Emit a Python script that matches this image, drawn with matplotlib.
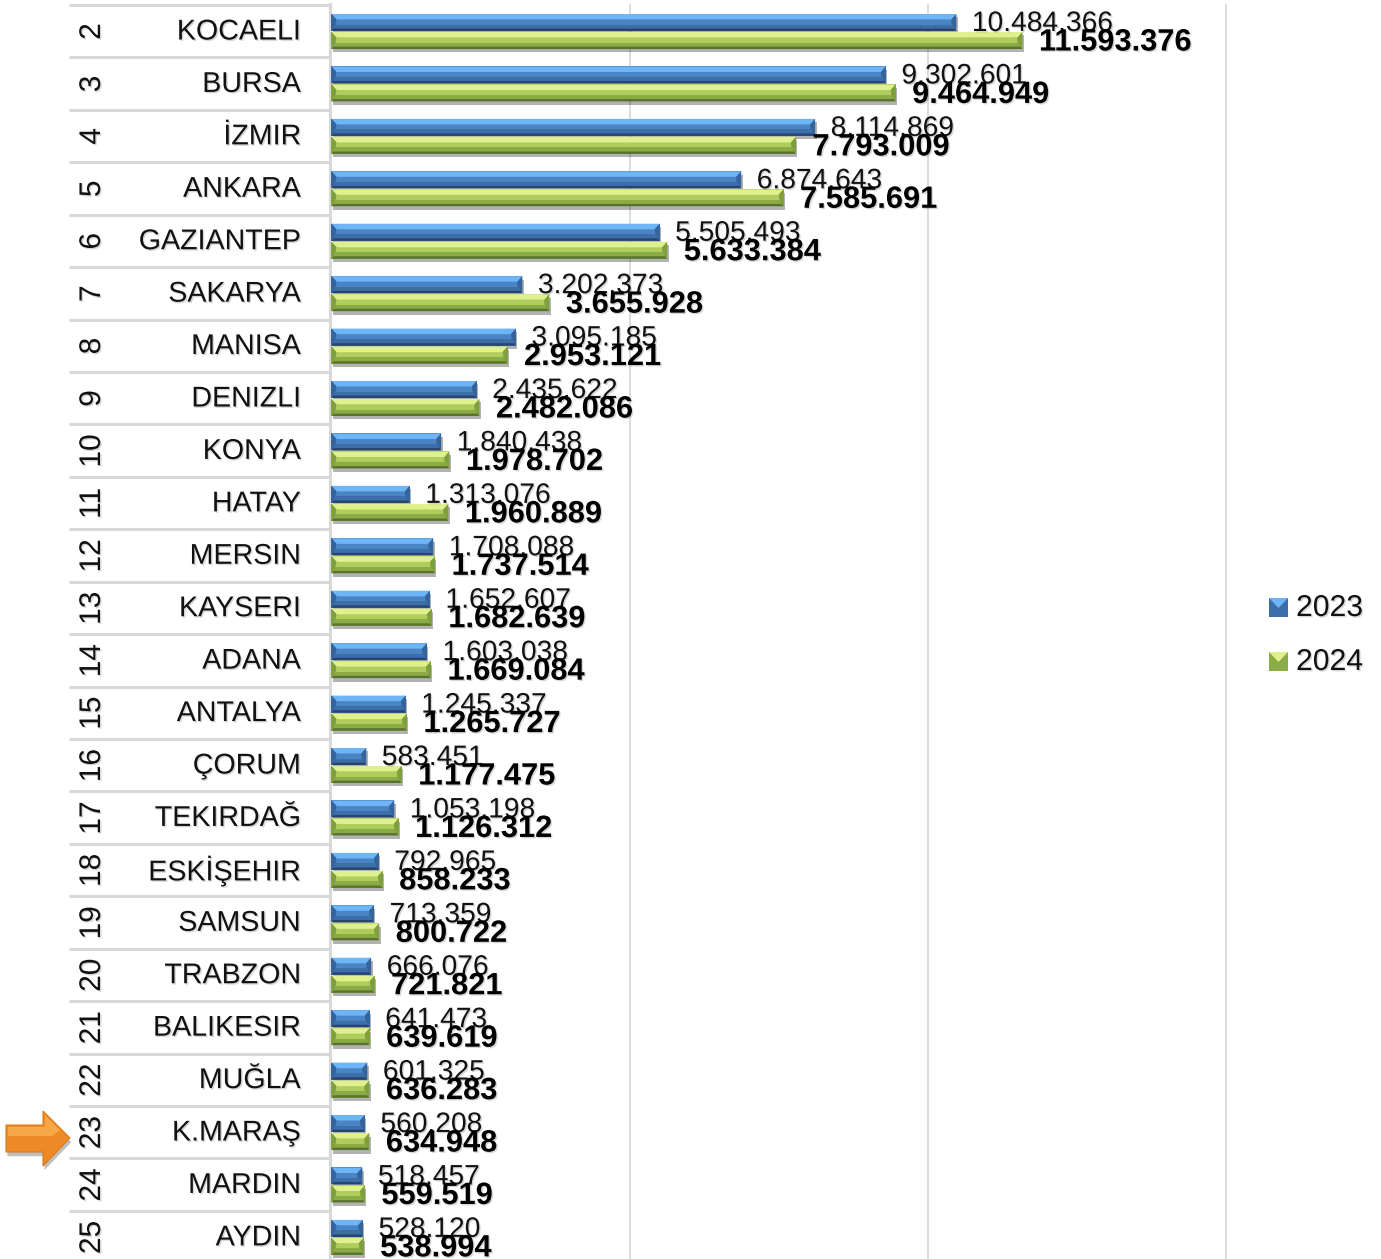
import matplotlib
matplotlib.use('Agg')
import matplotlib.pyplot as plt
import matplotlib.patheffects as pe
from matplotlib.patches import Polygon, Rectangle
from matplotlib.transforms import Affine2D

ranks = list(range(2, 26))
cities = ['KOCAELI', 'BURSA', 'İZMIR', 'ANKARA', 'GAZIANTEP', 'SAKARYA', 'MANISA',
          'DENIZLI', 'KONYA', 'HATAY', 'MERSIN', 'KAYSERI', 'ADANA', 'ANTALYA',
          'ÇORUM', 'TEKIRDAĞ', 'ESKİŞEHIR', 'SAMSUN', 'TRABZON', 'BALIKESIR',
          'MUĞLA', 'K.MARAŞ', 'MARDIN', 'AYDIN']
v2023 = [10484366, 9302601, 8114869, 6874643, 5505493, 3202373, 3095185,
         2435622, 1840438, 1313076, 1708088, 1652607, 1603038, 1245337,
         583451, 1053198, 792965, 713359, 666076, 641473,
         601325, 560208, 518457, 528120]
v2024 = [11593376, 9464949, 7793009, 7585691, 5633384, 3655928, 2953121,
         2482086, 1978702, 1960889, 1737514, 1682639, 1669084, 1265727,
         1177475, 1126312, 858233, 800722, 721821, 639619,
         636283, 634948, 559519, 538994]
years = ['2023', '2024']
grid_ticks = [0, 5000000, 10000000, 15000000]

W, H = 1381, 1259
X0 = 331.5
PX_PER_UNIT = 59.6e-6
ROW = 52.43
ROW0 = 31.5

plt.rcParams['font.family'] = ['Liberation Sans', 'DejaVu Sans']

fig = plt.figure(figsize=(W / 100, H / 100), dpi=100)
ax = fig.add_axes([0, 0, 1, 1])
ax.set_xlim(-X0 / PX_PER_UNIT, (W - X0) / PX_PER_UNIT)
ax.set_ylim((H - ROW0) / ROW, -ROW0 / ROW)
ax.axis('off')

# pixel coordinates, y going down like the picture
px = Affine2D().scale(1, -1).translate(0, H)

shadow = [pe.withSimplePatchShadow(offset=(1.0, -1.0), alpha=0.16, shadow_rgbFace='k')]
bar_shadow = [pe.SimplePatchShadow(offset=(1, -2.5), alpha=0.3, shadow_rgbFace='k'), pe.Normal()]

BLUE = dict(main='#3c6ea9', top='#6db5f7', mid='#4a84c2', bottom='#27446e', side='#35649c')
GREEN = dict(main='#8bab45', top='#dff18d', mid='#b0cc5c', bottom='#5a7230', side='#7f9e3e')


def bevel_bar(val, y0, y1, c):
    bw = min(5 / PX_PER_UNIT, val * 0.3)
    h = y1 - y0
    top = y0 + h * 0.33
    midb = y0 + h * 0.62
    bot = y1 - h * 0.14
    polys = [
        ([(0, y0), (val, y0), (val - bw, top), (bw, top)], c['top'], 3.2),
        ([(bw, top), (val - bw, top), (val - bw, midb), (bw, midb)], c['mid'], 3.1),
        ([(0, y1), (val, y1), (val - bw * 0.4, bot), (bw * 0.4, bot)], c['bottom'], 3.2),
        ([(0, y0), (bw, top), (bw * 0.4, bot), (0, y1)], c['side'], 3.3),
        ([(val, y0), (val - bw, top), (val - bw * 0.4, bot), (val, y1)], c['side'], 3.3),
    ]
    for pts, col, z in polys:
        ax.add_patch(Polygon(pts, closed=True, fc=col, ec='none', zorder=z))


# grid
for t in grid_ticks:
    ax.plot([t, t], [(5 - ROW0) / ROW, (H - ROW0) / ROW], color='#d9d9d9', lw=1.3, zorder=1)

# table on the left
for i in range(len(ranks) + 1):
    y = 5 + i * ROW
    ax.plot([69, 330], [y, y], color='#d8d8d8', lw=2.2, transform=px, zorder=2, solid_capstyle='butt')
ax.plot([330, 330], [4, H], color='#d8d8d8', lw=2.2, transform=px, zorder=2)

bar_h = 17 / ROW
for i, city in enumerate(cities):
    yc = ROW0 + i * ROW
    ax.text(92, yc, str(ranks[i]), rotation=90, ha='center', va='center', fontsize=21.5,
            transform=px, color='#111111', path_effects=shadow, zorder=5)
    ax.text(301, yc, city, ha='right', va='center', fontsize=20.6,
            transform=px, color='#111111', path_effects=shadow, zorder=5)

    for val, c, off in ((v2023[i], BLUE, -17.5), (v2024[i], GREEN, 0.5)):
        y0 = i + off / ROW
        b = ax.barh(y0 + bar_h / 2, val, height=bar_h, color=c['main'], zorder=3)
        b[0].set_path_effects(bar_shadow)
        bevel_bar(val, y0, y0 + bar_h, c)

    ax.text(v2023[i] + 15.5 / PX_PER_UNIT, i - 7.5 / ROW,
            f'{v2023[i]:,}'.replace(',', '.'), ha='left', va='center', fontsize=20.3,
            color='#111111', path_effects=shadow, zorder=6)
    ax.text(v2024[i] + 16.5 / PX_PER_UNIT, i + 11 / ROW,
            f'{v2024[i]:,}'.replace(',', '.'), ha='left', va='center', fontsize=22.2,
            fontweight='bold', color='#000000', path_effects=shadow, zorder=7)

# legend
for year, yy, c in zip(years, (598, 652), (BLUE, GREEN)):
    ax.add_patch(Rectangle((1269, yy), 19, 19, fc=c['main'], ec='none', transform=px, zorder=3))
    ax.add_patch(Polygon([(1269, yy), (1288, yy), (1278.5, yy + 10)], fc=c['top'], ec='none',
                         transform=px, zorder=4))
    ax.text(1296, yy + 10, year, ha='left', va='center', fontsize=21.7, transform=px,
            color='#111111', path_effects=shadow, zorder=5)

# orange arrow at K.MARAŞ
arrow = [(6, 1125), (43, 1125), (43, 1111), (70, 1138), (43, 1166), (43, 1152), (6, 1152)]
ax.add_patch(Polygon(arrow, fc='#ee8a25', ec='#d97a1c', lw=0.8, transform=px, zorder=8,
                     path_effects=[pe.SimplePatchShadow(offset=(1, -3), alpha=0.25, shadow_rgbFace='k'), pe.Normal()]))
ax.add_patch(Polygon([(8, 1127), (45, 1127), (45, 1115), (60, 1130), (52, 1136), (8, 1136)],
                     fc='#f8a747', ec='none', transform=px, zorder=9))

fig.savefig('out.png', dpi=100)
plt.close()
